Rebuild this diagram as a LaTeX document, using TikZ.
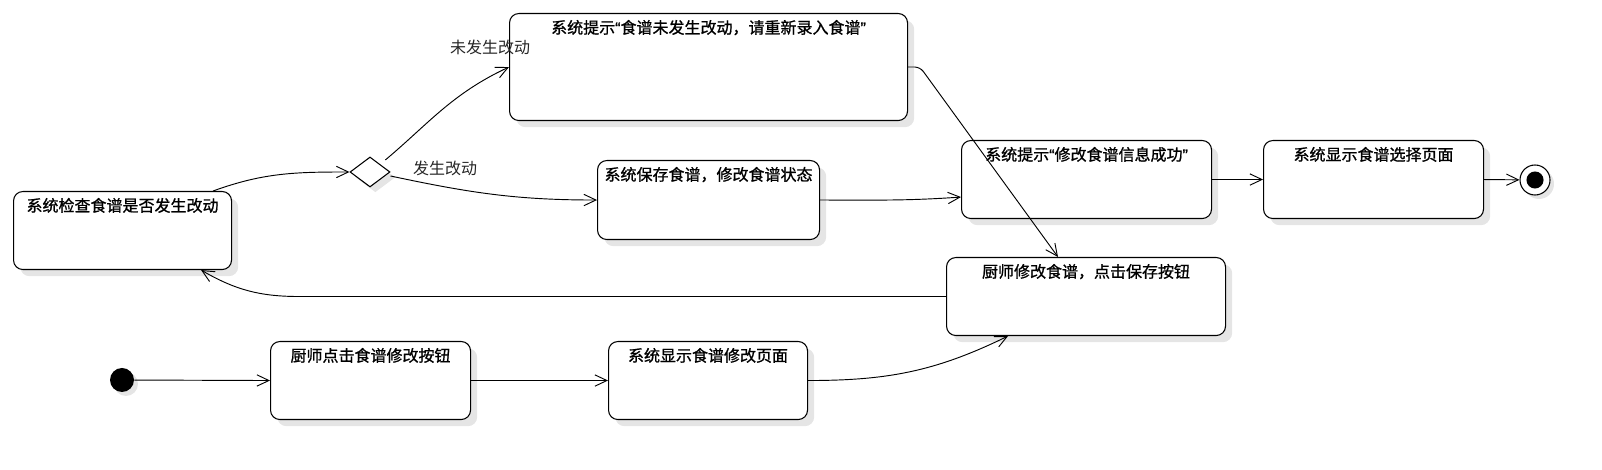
\documentclass[tikz,border=0pt]{standalone}
\usepackage{fontspec}
\setmainfont{Noto Sans CJK SC}
\newfontfamily\boxfont[FakeBold=1]{Noto Sans CJK SC}
\newfontfamily\quotefont[FakeBold=1]{Liberation Sans}
\newcommand\openq{{\quotefont “}}
\newcommand\closeq{{\quotefont ”}}
\usetikzlibrary{arrows.meta,calc,shapes.geometric,shadows}

\begin{document}
\begin{tikzpicture}[
    x=0.75pt, y=0.75pt,
    act/.style={rectangle, draw=black, line width=0.8pt, rounded corners=7pt, fill=white,
                anchor=north west, inner xsep=0pt, inner ysep=0pt,
                text height=15pt, text depth=43.5pt,
                font=\boxfont\fontsize{12pt}{14pt}\selectfont,
                drop shadow={shadow xshift=5pt, shadow yshift=-5pt, fill=black!10, opacity=1}},
    dec/.style={diamond, draw=black, line width=0.8pt, fill=white, inner sep=0pt,
                minimum width=30pt, minimum height=22.5pt,
                drop shadow={shadow xshift=4pt, shadow yshift=-4pt, fill=black!10, opacity=1}},
    init/.style={circle, fill=black, inner sep=0pt, minimum size=18pt,
                drop shadow={shadow xshift=3pt, shadow yshift=-3pt, fill=black!10, opacity=1}},
    fin/.style={circle, draw=black, line width=0.8pt, fill=white, inner sep=0pt, minimum size=22.5pt,
                path picture={\fill[black] (path picture bounding box.center) circle (6.4pt);},
                drop shadow={shadow xshift=3pt, shadow yshift=-3pt, fill=black!10, opacity=1}},
    lab/.style={font=\fontsize{12pt}{14pt}\selectfont, text=black!85, inner sep=0pt},
    tr/.style={-{Straight Barb[length=9pt,width=8.5pt]}, line width=0.7pt}
]
\useasboundingbox (0,0) rectangle (1602,470);

\node[act, minimum width=163.5pt] (check) at (13,279) {系统检查食谱是否发生改动};
\node[act, minimum width=298.5pt, text depth=65.25pt] (norecord) at (509,457)
    {系统提示\openq 食谱未发生改动，请重新录入食谱\closeq};
\node[act, minimum width=166.5pt, text depth=44.25pt] (save) at (597,310) {系统保存食谱，修改食谱状态};
\node[act, minimum width=187.5pt] (success) at (961,330) {系统提示\openq 修改食谱信息成功\closeq};
\node[act, minimum width=165pt] (selectpage) at (1263,330) {系统显示食谱选择页面};
\node[act, minimum width=209.25pt] (modify) at (946,213) {厨师修改食谱，点击保存按钮};
\node[act, minimum width=150pt] (click) at (270,129) {厨师点击食谱修改按钮};
\node[act, minimum width=149.25pt] (showedit) at (608,129) {系统显示食谱修改页面};

\node[init] (start) at (122,90) {};
\node[fin] (final) at (1535,290) {};
\node[dec] (choice) at (370,298) {};

\draw[tr] (start) -- (click.west);
\draw[tr] (click.east) -- (showedit.west);
\draw[tr] (showedit.east) to[out=0,in=206] ($(modify.south west)+(62,0)$);
\draw[tr] (modify.west) -- ++(-646,0) to[out=180,in=-30] ($(check.south east)+(-31,0)$);

\draw[tr] ($(check.north east)+(-19,0)$) to[out=20,in=180] (choice.west);
\draw[tr, shorten <=5pt] (choice.north east) to[out=40,in=205]
    node[lab, pos=1, xshift=-14.25pt, yshift=14.6pt] (nochange) {未发生改动} (norecord.west);
\draw[tr] ([yshift=-3pt]choice.east) to[out=-12,in=180]
    node[lab, pos=0, anchor=west, xshift=16.5pt, yshift=6pt] (changed) {发生改动} (save.west);

\draw[tr] (save.east) to[out=0,in=184] ($(success.south west)+(0,22)$);
\draw[tr, rounded corners=4pt] (norecord.east) -- ++(12,0) -- ($(modify.north west)+(112,0)$);
\draw[tr] (success.east) -- (selectpage.west);
\draw[tr] (selectpage.east) -- (final);
\end{tikzpicture}
\end{document}
